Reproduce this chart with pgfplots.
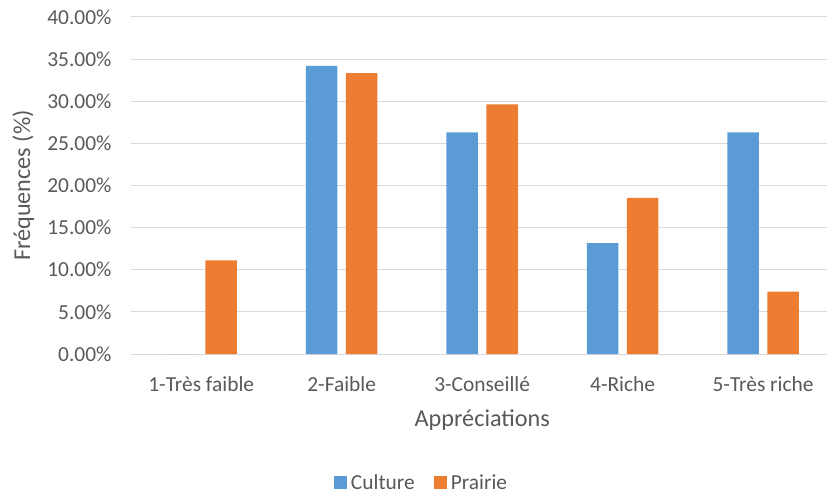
\documentclass[border=0pt]{standalone}
\usepackage{fontspec}
\setmainfont{Carlito}
\usepackage{pgfplots}
\pgfplotsset{compat=1.18}
\definecolor{cblue}{HTML}{5B9BD5}
\definecolor{corange}{HTML}{ED7D31}
\definecolor{txt}{HTML}{595959}
\definecolor{gridc}{HTML}{D9D9D9}
\begin{document}
\begin{tikzpicture}
\useasboundingbox (-131bp,-141bp) rectangle (696bp,354bp);
\begin{axis}[
  at={(0,0)}, anchor=south west,
  scale only axis, width=696bp, height=337bp,
  xmin=-0.5, xmax=4.455, ymin=0, ymax=40,
  ybar=8.4bp, bar width=31.5bp,
  axis line style={draw=none},
  ymajorgrids, major grid style={gridc, line width=1bp},
  major tick length=0,
  xtick={0,1,2,3,4},
  xticklabels={1-Très faible,2-Faible,3-Conseillé,4-Riche,5-Très riche},
  ytick={0,5,10,15,20,25,30,35,40},
  yticklabels={0.00\%,5.00\%,10.00\%,15.00\%,20.00\%,25.00\%,30.00\%,35.00\%,40.00\%},
  tick label style={font=\fontsize{21.5}{24}\selectfont, text=txt},
  yticklabel style={xshift=-16bp},
  xticklabel style={yshift=-19bp},
  xlabel={Appréciations},
  ylabel={Fréquences (\%)},
  label style={font=\fontsize{24.3}{28}\selectfont, text=txt},
  xlabel style={at={(axis description cs:0.5047,-0.196)}, anchor=center},
  ylabel style={at={(axis description cs:-0.155,0.5)}, anchor=center},
  legend style={at={(axis description cs:0.4174,-0.381)}, anchor=center, draw=none,
    font=\fontsize{21.5}{24}\selectfont, text=txt, inner sep=0pt,
    /tikz/every even column/.append style={column sep=17bp}},
  legend columns=2,
  legend image code/.code={\fill[#1] (0bp,-6.5bp) rectangle (13bp,6.5bp); \path (15bp,0bp);},
]
\addplot[fill=cblue, draw=none] coordinates {(0,0) (1,34.21) (2,26.32) (3,13.16) (4,26.32)};
\addplot[fill=corange, draw=none] coordinates {(0,11.11) (1,33.33) (2,29.63) (3,18.52) (4,7.41)};
\legend{Culture, Prairie}
\end{axis}
\end{tikzpicture}
\end{document}
